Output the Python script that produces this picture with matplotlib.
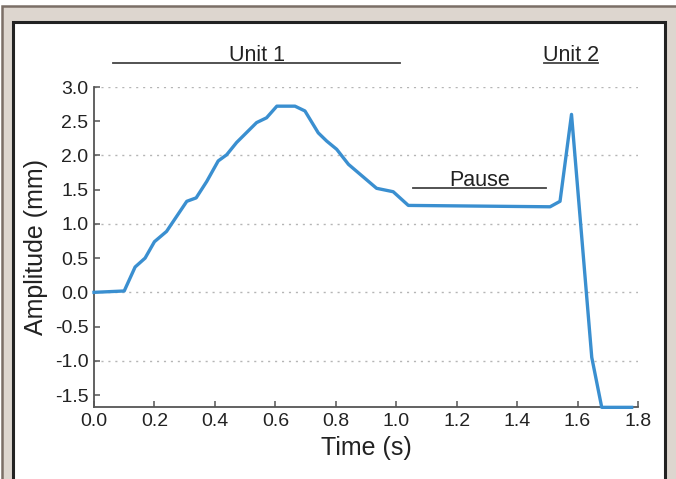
import matplotlib.pyplot as plt
from matplotlib.patches import Rectangle

plt.rcParams['font.family'] = ['Liberation Sans', 'DejaVu Sans']

# trace
time_s = [0.0, 0.10, 0.136, 0.169, 0.20, 0.24, 0.307, 0.338, 0.373, 0.411, 0.439,
          0.472, 0.538, 0.571, 0.605, 0.665, 0.698, 0.742, 0.77, 0.803, 0.842,
          0.935, 0.99, 1.04, 1.509, 1.542, 1.58, 1.647, 1.68, 1.779]
amp_mm = [0.0, 0.02, 0.37, 0.50, 0.74, 0.89, 1.33, 1.38, 1.62, 1.92, 2.01,
          2.19, 2.48, 2.55, 2.72, 2.72, 2.65, 2.33, 2.21, 2.09, 1.87,
          1.52, 1.47, 1.27, 1.25, 1.33, 2.60, -0.95, -1.68, -1.68]

segments = ['Unit 1', 'Pause', 'Unit 2']
seg_start = [0.063, 1.057, 1.49]
seg_end = [1.013, 1.495, 1.668]
seg_level = [3.35, 1.525, 3.35]

xticks = [0.0, 0.2, 0.4, 0.6, 0.8, 1.0, 1.2, 1.4, 1.6, 1.8]
yticks = [-1.5, -1.0, -0.5, 0.0, 0.5, 1.0, 1.5, 2.0, 2.5, 3.0]
grid_levels = [-1.0, 0.0, 1.0, 2.0, 3.0]

W, H = 676, 479
fig = plt.figure(figsize=(W / 100, H / 100), dpi=100)
fig.patch.set_facecolor('white')

# framed panel behind the chart
fig.add_artist(Rectangle((1.5 / W, -0.02), 1.0, (H - 6) / H + 0.02,
                         transform=fig.transFigure, facecolor='#ddd6cf',
                         edgecolor='#7b6f67', lw=1.8, zorder=-10))
fig.add_artist(Rectangle((12.5 / W, -0.02), (664.5 - 12.5) / W, (H - 22) / H + 0.02,
                         transform=fig.transFigure, facecolor='white',
                         edgecolor='#222222', lw=2.2, zorder=-9))

ax = fig.add_axes([94 / W, (H - 407) / H, 544 / W, (407 - 87) / H])
ax.set_facecolor('none')

for g in grid_levels:
    ax.axhline(g, color='#b5b5b5', lw=1.0, ls=(0, (1.5, 3.5)), zorder=0)

ax.plot(time_s, amp_mm, color='#3a8fd0', lw=2.4, zorder=3, clip_on=False)

for name, a, b, lvl in zip(segments, seg_start, seg_end, seg_level):
    ax.plot([a, b], [lvl, lvl], color='#444444', lw=1.3, clip_on=False)
    ax.text((a + b) / 2, lvl + 0.035, name, ha='center', va='baseline',
            fontsize=15.5, color='#222222', clip_on=False)

ax.set_xlim(0, 1.8)
ax.set_ylim(-1.675, 3.0)
ax.set_xticks(xticks)
ax.set_yticks(yticks)
ax.set_xticklabels([f'{v:.1f}' for v in xticks])
ax.set_yticklabels([f'{v:.1f}' for v in yticks])

for side in ['top', 'right']:
    ax.spines[side].set_visible(False)
for side in ['left', 'bottom']:
    ax.spines[side].set_color('#555555')
    ax.spines[side].set_linewidth(1.3)

ax.tick_params(direction='in', length=4, width=1.1, color='#555555',
               labelsize=14, labelcolor='#222222', pad=4)
ax.set_xlabel('Time (s)', fontsize=18, color='#222222', labelpad=5)
ax.set_ylabel('Amplitude (mm)', fontsize=18, color='#222222', labelpad=5)

fig.savefig('out.png', dpi=100)
